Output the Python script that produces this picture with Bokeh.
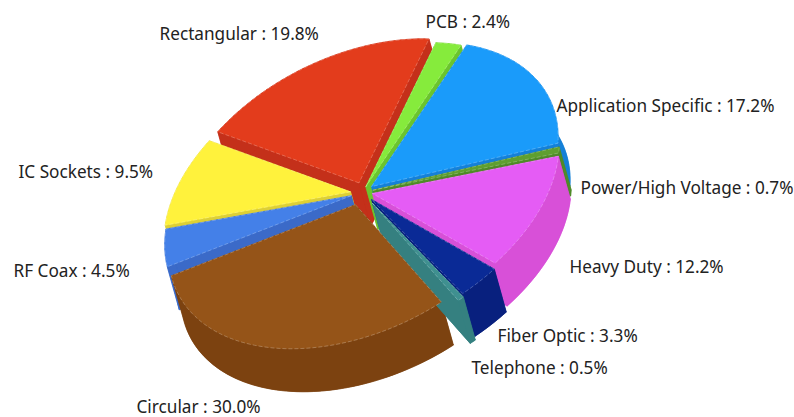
import numpy as np
from bokeh.plotting import figure
from bokeh.models import Range1d
from bokeh.core.properties import value
from bokeh.embed import file_html
from bokeh.resources import INLINE

# data (clockwise from the top)
names = ["PCB", "Application Specific", "Power/High Voltage", "Heavy Duty", "Fiber Optic",
         "Telephone", "Circular", "RF Coax", "IC Sockets", "Rectangular"]
shares = [2.4, 17.2, 0.7, 12.2, 3.3, 0.5, 30.0, 4.5, 9.5, 19.8]

# style
top_colors = ["#86EB3C", "#1A9BFA", "#5F9F30", "#E55CF5", "#0A2A96",
              "#3F9090", "#955418", "#4480E8", "#FFF23C", "#E33C1C"]
side_colors = ["#6BC42E", "#1580D8", "#4F8A28", "#D850D8", "#08207E",
               "#358080", "#7C4210", "#3B6AC8", "#DDD035", "#C4301A"]

# layout: projection of the pie circle on to the page (pixels, y down)
CENTER = np.array([362.0, 192.0])
AXIS_U = np.array([70.0, -144.0])
AXIS_W = np.array([173.0, 5.0])
DEPTH = np.array([12.0, 43.0])
explode = [0.04, 0.055, 0.055, 0.06, 0.085, 0.11, 0.085, 0.06, 0.07, 0.08]
# painter's order of the side walls: (slice, parts); parts are 0 floor, 1 first edge, 2 last edge, 3 rim
wall_order = [(9, (0, 1, 3)), (8, (0, 1, 2, 3)), (7, (0, 1, 2, 3)), (9, (2,)),
              (0, (0, 1, 2, 3)), (1, (0, 1, 2, 3)), (2, (0, 1, 2, 3)), (3, (0, 1, 2, 3)),
              (6, (0, 1, 2, 3)), (4, (0, 1, 2, 3)), (5, (0, 1, 2, 3))]
label_x = [425, 556, 580, 569, 497, 471, 136, 13, 18, 159]
label_y = [21, 105, 187, 266, 335, 367, 406, 270, 171, 33]


def project(phi):
    phi = np.asarray(phi)
    return np.outer(np.cos(phi), AXIS_U) + np.outer(np.sin(phi), AXIS_W)


total = sum(shares)
edges = np.concatenate([[0], np.cumsum(shares)]) / total * 2 * np.pi

slice_walls = {}
tops_x, tops_y, tops_c = [], [], []
rim_x, rim_y = [], []

for i in range(len(shares)):
    a0, a1 = edges[i], edges[i + 1]
    mid = (a0 + a1) / 2
    apex = CENTER + explode[i] * project([mid])[0]
    n = max(4, int((a1 - a0) / 0.03))
    arc = apex + project(np.linspace(a0, a1, n))
    top = np.vstack([[apex], arc])
    low = top + DEPTH
    slice_walls[i] = [low,
                      np.vstack([top[0], top[1], low[1], low[0]]),
                      np.vstack([top[0], top[-1], low[-1], low[0]]),
                      np.vstack([top[1:], low[1:][::-1]])]
    tops_x.append(top[:, 0].tolist())
    tops_y.append(top[:, 1].tolist())
    tops_c.append(top_colors[i])
    closed = np.vstack([top, top[0]])
    rim_x.append(closed[:, 0].tolist())
    rim_y.append(closed[:, 1].tolist())

walls_x, walls_y, walls_c = [], [], []
for i, parts in wall_order:
    for k in parts:
        part = slice_walls[i][k]
        walls_x.append(part[:, 0].tolist())
        walls_y.append(part[:, 1].tolist())
        walls_c.append(side_colors[i])

p = figure(width=794, height=417, output_backend="svg", toolbar_location=None,
           x_range=Range1d(0, 794), y_range=Range1d(417, 0),
           min_border=0, outline_line_color=None, background_fill_color="white")
p.xaxis.visible = False
p.yaxis.visible = False
p.grid.visible = False

p.patches(walls_x, walls_y, fill_color=walls_c, line_color=walls_c, line_width=0.5)
p.patches(tops_x, tops_y, fill_color=tops_c, line_color=tops_c, line_width=0.5)
p.multi_line(rim_x, rim_y, line_color="white", line_alpha=0.35, line_width=0.7, line_dash="4 2")

labels = [f"{n} : {v:.1f}%" for n, v in zip(names, shares)]
p.text(label_x, label_y, text=labels, text_font=value("Noto Sans"), text_font_size="17.2px",
       text_color="#222222", text_baseline="middle", text_align="left")

open("out.html", "w").write(file_html(p, INLINE))
